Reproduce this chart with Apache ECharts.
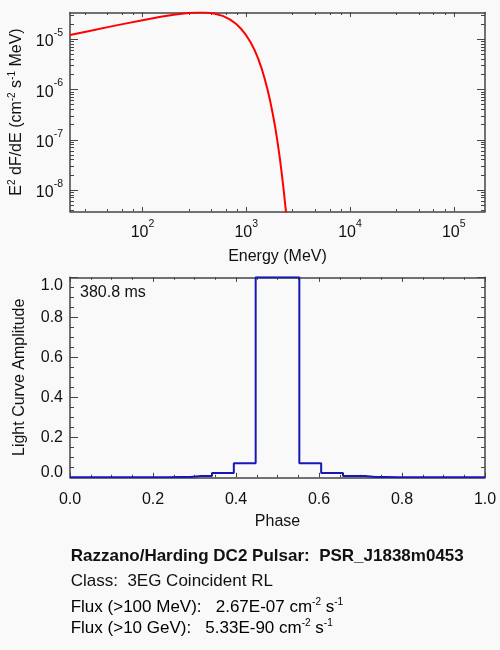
<!DOCTYPE html>
<html>
<head>
<meta charset="utf-8">
<title>PSR_J1838m0453</title>
<script src="https://cdn.jsdelivr.net/npm/echarts@6.0.0/dist/echarts.min.js"></script>
<style>
  html, body { margin: 0; padding: 0; background: #f9f9f9; }
  #main { width: 500px; height: 650px; }
</style>
</head>
<body>
<div id="main"></div>
<script>
// spectrum: E (MeV) against E^2 dF/dE
var energy = [20, 30, 50, 70, 100, 150, 200, 250, 300, 350, 400, 450, 500, 600, 700, 800, 900,
  1000, 1100, 1200, 1300, 1400, 1500, 1600, 1700, 1800, 1900, 2000, 2100, 2200, 2300, 2400, 2500];
var e2dfde = [1.23e-5, 1.46e-5, 1.82e-5, 2.09e-5, 2.42e-5, 2.83e-5, 3.10e-5, 3.30e-5, 3.40e-5, 3.44e-5,
  3.43e-5, 3.36e-5, 3.24e-5, 2.91e-5, 2.48e-5, 2.03e-5, 1.59e-5, 1.20e-5, 8.8e-6, 6.2e-6, 4.2e-6,
  2.72e-6, 1.68e-6, 1.02e-6, 5.9e-7, 3.3e-7, 1.78e-7, 9.1e-8, 4.5e-8, 2.1e-8, 9.5e-9, 4.1e-9, 1.7e-9];

var energyRange = [20, 2e5];
var fluxRange = [3.72e-9, 3.44e-5];
var energyTicks = [1e2, 1e3, 1e4, 1e5];
var energyMinor = [28, 46, 64, 82, 280, 460, 640, 820, 2800, 4600, 6400, 8200, 28000, 46000, 64000, 82000];
var fluxTicks = [1e-8, 1e-7, 1e-6, 1e-5];
var fluxMinor = [4e-9, 5e-9, 6e-9, 7e-9, 8e-9, 9e-9,
  2e-8, 3e-8, 4e-8, 5e-8, 6e-8, 7e-8, 8e-8, 9e-8,
  2e-7, 3e-7, 4e-7, 5e-7, 6e-7, 7e-7, 8e-7, 9e-7,
  2e-6, 3e-6, 4e-6, 5e-6, 6e-6, 7e-6, 8e-6, 9e-6,
  2e-5, 3e-5];

// light curve, 19 bins per turn
var phase = [0, 0.0526, 0.1053, 0.1579, 0.2105, 0.2632, 0.3158, 0.3684, 0.4211, 0.4737,
  0.5263, 0.5789, 0.6316, 0.6842, 0.7368, 0.7895, 0.8421, 0.8947, 0.9474, 1.0];
var amplitude = [0, 0, 0, 0, 0, 0.002, 0.006, 0.022, 0.07, 1.0,
  1.0, 0.07, 0.022, 0.006, 0.002, 0, 0, 0, 0, 0];

var FONT = '"Liberation Sans", Arial, Helvetica, sans-serif';
var INK = '#111';
var FRAME = '#444';

function lg(v) { return Math.log10(v); }

var powRich = {
  b: { fontSize: 16, lineHeight: 28, verticalAlign: 'middle', fontFamily: FONT, color: INK },
  s: { fontSize: 10.5, lineHeight: 10, verticalAlign: 'top', fontFamily: FONT, color: INK }
};
function powLabel(v) { return '{b|10}{s|' + Math.round(v) + '}'; }

var nameStyle = { fontSize: 16, fontFamily: FONT, color: INK };

function frame(o) {
  var a = {
    type: 'value',
    axisLine: { show: true, onZero: false, lineStyle: { color: FRAME, width: 1.5 } },
    axisTick: { show: true, inside: true, length: o.tickLen, lineStyle: { color: FRAME, width: 1 } },
    axisLabel: { show: false },
    splitLine: { show: false }
  };
  if (o.ticks) a.axisTick.customValues = o.ticks;
  if (o.noLine) a.axisLine.show = false;
  delete o.tickLen; delete o.ticks; delete o.noLine;
  return Object.assign(a, o);
}

var xLo = lg(energyRange[0]), xHi = lg(energyRange[1]);
var yLo = lg(fluxRange[0]), yHi = lg(fluxRange[1]);

var xAxes = [
  frame({ gridIndex: 0, position: 'bottom', min: xLo, max: xHi, tickLen: 4.5, ticks: energyTicks.map(lg),
    axisLabel: { show: true, customValues: energyTicks.map(lg), formatter: powLabel, margin: 7, rich: powRich },
    name: 'Energy (MeV)', nameLocation: 'middle', nameGap: 37, nameTextStyle: nameStyle }),
  frame({ gridIndex: 0, position: 'bottom', min: xLo, max: xHi, tickLen: 2.5, ticks: energyMinor.map(lg), noLine: true }),
  frame({ gridIndex: 0, position: 'top', min: xLo, max: xHi, tickLen: 4.5, ticks: energyTicks.map(lg) }),
  frame({ gridIndex: 0, position: 'top', min: xLo, max: xHi, tickLen: 2.5, ticks: energyMinor.map(lg), noLine: true }),
  frame({ gridIndex: 1, position: 'bottom', min: 0, max: 1, interval: 0.2, tickLen: 4.5,
    minorTick: { show: true, splitNumber: 4, length: 2.5, lineStyle: { color: FRAME, width: 1 } },
    axisLabel: { show: true, margin: 14, fontSize: 16, fontFamily: FONT, color: INK,
      formatter: function (v) { return v.toFixed(1); } },
    name: 'Phase', nameLocation: 'middle', nameGap: 36, nameTextStyle: nameStyle }),
  frame({ gridIndex: 1, position: 'top', min: 0, max: 1, interval: 0.2, tickLen: 4.5,
    minorTick: { show: true, splitNumber: 4, length: 2.5, lineStyle: { color: FRAME, width: 1 } } })
];

var yAxes = [
  frame({ gridIndex: 0, position: 'left', min: yLo, max: yHi, tickLen: 8, ticks: fluxTicks.map(lg),
    axisLabel: { show: true, customValues: fluxTicks.map(lg), formatter: powLabel, margin: 7,
      padding: [5, 0, 0, 0], rich: powRich },
    name: '{b|E}{s|2}{b| dF/dE (cm}{s|-2}{b| s}{s|-1}{b| MeV)}',
    nameLocation: 'middle', nameGap: 43,
    nameTextStyle: { fontSize: 16, fontFamily: FONT, color: INK, rich: {
      b: { fontSize: 16, lineHeight: 20, verticalAlign: 'middle', fontFamily: FONT, color: INK },
      s: { fontSize: 10, lineHeight: 12, verticalAlign: 'top', fontFamily: FONT, color: INK } } } }),
  frame({ gridIndex: 0, position: 'left', min: yLo, max: yHi, tickLen: 4, ticks: fluxMinor.map(lg), noLine: true }),
  frame({ gridIndex: 0, position: 'right', min: yLo, max: yHi, tickLen: 8, ticks: fluxTicks.map(lg) }),
  frame({ gridIndex: 0, position: 'right', min: yLo, max: yHi, tickLen: 4, ticks: fluxMinor.map(lg), noLine: true }),
  frame({ gridIndex: 1, position: 'left', min: 0, max: 1, interval: 0.2, tickLen: 8,
    minorTick: { show: true, splitNumber: 4, length: 4, lineStyle: { color: FRAME, width: 1 } },
    axisLabel: { show: true, margin: 7, fontSize: 16, fontFamily: FONT, color: INK,
      formatter: function (v) {
        if (v === 0) return '{lo|0.0}';
        if (v === 1) return '{hi|1.0}';
        return v.toFixed(1);
      },
      rich: { lo: { padding: [0, 0, 10, 0] }, hi: { padding: [17, 0, 0, 0] } } },
    name: 'Light Curve Amplitude', nameLocation: 'middle', nameGap: 42, nameTextStyle: nameStyle }),
  frame({ gridIndex: 1, position: 'right', min: 0, max: 1, interval: 0.2, tickLen: 8,
    minorTick: { show: true, splitNumber: 4, length: 4, lineStyle: { color: FRAME, width: 1 } } })
];

var supText = {
  t: { fontSize: 17, lineHeight: 20, verticalAlign: 'middle', fontFamily: FONT, color: INK },
  u: { fontSize: 10, lineHeight: 8, verticalAlign: 'top', fontFamily: FONT, color: INK }
};

var option = {
  backgroundColor: '#f9f9f9',
  animation: false,
  grid: [
    { left: 70, top: 12.5, width: 415, height: 199, outerBoundsMode: 'none' },
    { left: 70, top: 277.3, width: 415, height: 200, outerBoundsMode: 'none' }
  ],
  xAxis: xAxes,
  yAxis: yAxes,
  series: [
    {
      type: 'line', xAxisIndex: 0, yAxisIndex: 0, showSymbol: false, clip: true,
      lineStyle: { color: '#ff0000', width: 2 },
      data: energy.map(function (e, i) { return [lg(e), lg(e2dfde[i])]; })
    },
    {
      type: 'line', xAxisIndex: 4, yAxisIndex: 4, showSymbol: false, step: 'middle', clip: true,
      lineStyle: { color: '#1717b8', width: 2 },
      data: phase.map(function (p, i) { return [p, amplitude[i]]; })
    }
  ],
  graphic: [
    { type: 'text', style: { x: 80, y: 292.7, text: '380.8 ms', verticalAlign: 'middle',
      fontSize: 16, fontFamily: FONT, fill: INK } },
    { type: 'text', style: { x: 70.7, y: 556.7, text: 'Razzano/Harding DC2 Pulsar:  PSR_J1838m0453',
      verticalAlign: 'middle', fontSize: 17, fontWeight: 'bold', fontFamily: FONT, fill: INK } },
    { type: 'text', style: { x: 70.7, y: 581, text: 'Class:  3EG Coincident RL',
      verticalAlign: 'middle', fontSize: 17, fontFamily: FONT, fill: INK } },
    { type: 'text', style: { x: 70.7, y: 607.7, verticalAlign: 'middle', rich: supText,
      text: '{t|Flux (>100 MeV):   2.67E-07 cm}{u|-2}{t| s}{u|-1}' } },
    { type: 'text', style: { x: 70.7, y: 628.3, verticalAlign: 'middle', rich: supText,
      text: '{t|Flux (>10 GeV):   5.33E-90 cm}{u|-2}{t| s}{u|-1}' } }
  ]
};

var chart = echarts.init(document.getElementById('main'));
chart.setOption(option);
</script>
</body>
</html>
